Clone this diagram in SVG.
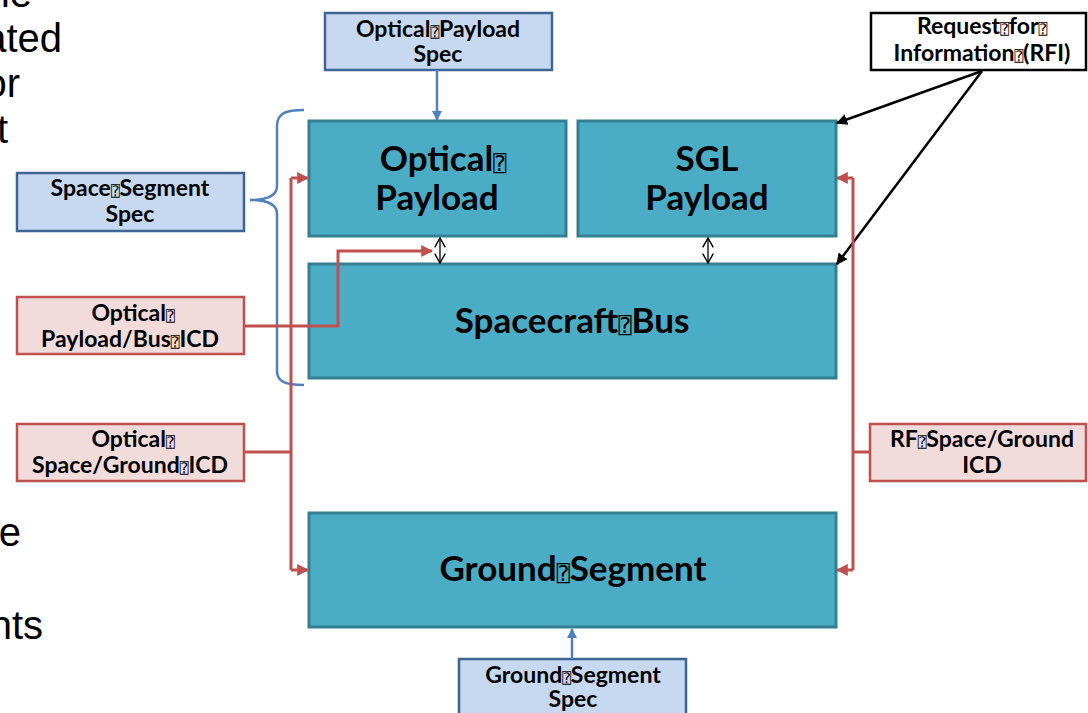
<svg xmlns="http://www.w3.org/2000/svg" width="1088" height="713" viewBox="0 0 1088 713">
  <style>
    .bg { font-family: "Liberation Sans", Arial, sans-serif; font-size: 40px; fill: #000; }
    .lbl { font-family: Lato, "Open Sans", "Noto Sans", sans-serif; font-weight: 700; font-size: 23px; fill: #000; text-anchor: middle; }
    .big { font-family: Lato, "Open Sans", "Noto Sans", sans-serif; font-weight: 700; font-size: 35px; fill: #000; text-anchor: middle; }
    .q { font-family: "DejaVu Sans Mono", "DejaVu Sans", monospace; font-weight: 400; font-size: 0.62em; fill: #000; }
    .block { fill: #4bacc6; stroke: #357f93; stroke-width: 3; }
    .spec { fill: #c6d9f1; stroke: #3e6593; stroke-width: 2.5; }
    .icd { fill: #f2dcdb; stroke: #c0504d; stroke-width: 2.5; }
    .rfi { fill: #fff; stroke: #000; stroke-width: 2.5; }
    .red { fill: none; stroke: #c0504d; stroke-width: 3; }
    .blue { fill: none; stroke: #4f81bd; stroke-width: 2.5; }
    .blk { fill: none; stroke: #000; stroke-width: 2.5; }
    .thin { fill: none; stroke: #000; stroke-width: 1.3; }
  </style>
  <defs>
    <marker id="ahRed" viewBox="0 0 10 10" refX="9" refY="5" markerWidth="4" markerHeight="4" orient="auto" markerUnits="strokeWidth">
      <path d="M0,0 L10,5 L0,10 z" fill="#c0504d"/>
    </marker>
    <marker id="ahBlue" viewBox="0 0 10 10" refX="9" refY="5" markerWidth="4" markerHeight="4" orient="auto" markerUnits="strokeWidth">
      <path d="M0,0 L10,5 L0,10 z" fill="#4f81bd"/>
    </marker>
    <marker id="ahBlk" viewBox="0 0 10 10" refX="9" refY="5" markerWidth="4.5" markerHeight="4.5" orient="auto" markerUnits="strokeWidth">
      <path d="M0,0 L10,5 L0,10 z" fill="#000"/>
    </marker>
    <marker id="ahOpen" viewBox="0 0 10 10" refX="9" refY="5" markerWidth="9" markerHeight="9" orient="auto-start-reverse" markerUnits="strokeWidth">
      <path d="M1,0.5 L9,5 L1,9.5" fill="none" stroke="#000" stroke-width="1.2"/>
    </marker>
  </defs>

  <!-- slide body text running in from the left edge -->
  <g id="slide-text">
    <text class="bg" x="32" y="7" text-anchor="end">he</text>
    <text class="bg" x="62" y="52" text-anchor="end">ated</text>
    <text class="bg" x="20" y="97" text-anchor="end">or</text>
    <text class="bg" x="8" y="143" text-anchor="end">t</text>
    <text class="bg" x="21" y="546" text-anchor="end">e</text>
    <text class="bg" x="43" y="639" text-anchor="end">nts</text>
  </g>

  <g id="optical-payload-spec">
    <rect class="spec" x="325" y="13" width="227" height="57"/>
    <text class="lbl" x="438" y="37">Optical<tspan class="q">⍰</tspan>Payload</text>
    <text class="lbl" x="438" y="62">Spec</text>
  </g>

  <g id="rfi">
    <rect class="rfi" x="871" y="13" width="215" height="57"/>
    <text class="lbl" x="982" y="34">Request<tspan class="q">⍰</tspan>for<tspan class="q">⍰</tspan></text>
    <text class="lbl" x="982" y="61">Information<tspan class="q">⍰</tspan>(RFI)</text>
  </g>

  <g id="optical-payload">
    <rect class="block" x="309" y="121" width="257" height="115"/>
    <text class="big" x="443" y="171">Optical<tspan class="q">⍰</tspan></text>
    <text class="big" x="437" y="210">Payload</text>
  </g>

  <g id="sgl-payload">
    <rect class="block" x="578" y="121" width="258" height="115"/>
    <text class="big" x="707" y="171">SGL</text>
    <text class="big" x="707" y="210">Payload</text>
  </g>

  <g id="spacecraft-bus">
    <rect class="block" x="309" y="264" width="527" height="114"/>
    <text class="big" x="572" y="333">Spacecraft<tspan class="q">⍰</tspan>Bus</text>
  </g>

  <g id="ground-segment">
    <rect class="block" x="309" y="513" width="527" height="114"/>
    <text class="big" x="573" y="581">Ground<tspan class="q">⍰</tspan>Segment</text>
  </g>

  <g id="space-segment-spec">
    <rect class="spec" x="17" y="173" width="227" height="58"/>
    <text class="lbl" x="130" y="196">Space<tspan class="q">⍰</tspan>Segment</text>
    <text class="lbl" x="130" y="222">Spec</text>
  </g>

  <g id="optical-payload-bus-icd">
    <rect class="icd" x="17" y="297" width="227" height="57"/>
    <text class="lbl" x="133" y="321">Optical<tspan class="q">⍰</tspan></text>
    <text class="lbl" x="130" y="347">Payload/Bus<tspan class="q">⍰</tspan>ICD</text>
  </g>

  <g id="optical-space-ground-icd">
    <rect class="icd" x="17" y="424" width="227" height="57"/>
    <text class="lbl" x="133" y="447">Optical<tspan class="q">⍰</tspan></text>
    <text class="lbl" x="130" y="473">Space/Ground<tspan class="q">⍰</tspan>ICD</text>
  </g>

  <g id="rf-space-ground-icd">
    <rect class="icd" x="870" y="424" width="216" height="57"/>
    <text class="lbl" x="982" y="447">RF<tspan class="q">⍰</tspan>Space/Ground</text>
    <text class="lbl" x="982" y="473">ICD</text>
  </g>

  <g id="ground-segment-spec">
    <rect class="spec" x="459" y="659" width="227" height="58"/>
    <text class="lbl" x="573" y="683">Ground<tspan class="q">⍰</tspan>Segment</text>
    <text class="lbl" x="573" y="707">Spec</text>
  </g>

  <!-- connectors, drawn over the blocks -->
  <g id="connectors">
    <!-- spec flows -->
    <path class="blue" d="M437,70 V120" marker-end="url(#ahBlue)"/>
    <path class="blue" d="M572,659 V629" marker-end="url(#ahBlue)"/>
    <!-- space segment brace -->
    <path class="blue" d="M304,110 C286,110 277,113 277,126 V186 C277,196 266,200 250,200 C266,200 277,204 277,214 V371 C277,382 286,385 304,385"/>
    <!-- RFI arrows -->
    <path class="blk" d="M982,71 L837,123" marker-end="url(#ahBlk)"/>
    <path class="blk" d="M982,71 L837,264" marker-end="url(#ahBlk)"/>
    <!-- payload / bus interfaces -->
    <path class="thin" d="M440,238 V263" marker-start="url(#ahOpen)" marker-end="url(#ahOpen)"/>
    <path class="thin" d="M708,238 V263" marker-start="url(#ahOpen)" marker-end="url(#ahOpen)"/>
    <!-- optical payload/bus ICD -->
    <path class="red" d="M244,326 H338 V251 H432" marker-end="url(#ahRed)"/>
    <!-- optical space/ground ICD -->
    <path class="red" d="M244,452 H291"/>
    <path class="red" d="M291,178 V570"/>
    <path class="red" d="M291,178 H308" marker-end="url(#ahRed)"/>
    <path class="red" d="M291,570 H308" marker-end="url(#ahRed)"/>
    <!-- RF space/ground ICD -->
    <path class="red" d="M870,452 H853"/>
    <path class="red" d="M853,178 V570"/>
    <path class="red" d="M853,178 H837" marker-end="url(#ahRed)"/>
    <path class="red" d="M853,570 H837" marker-end="url(#ahRed)"/>
  </g>
</svg>
